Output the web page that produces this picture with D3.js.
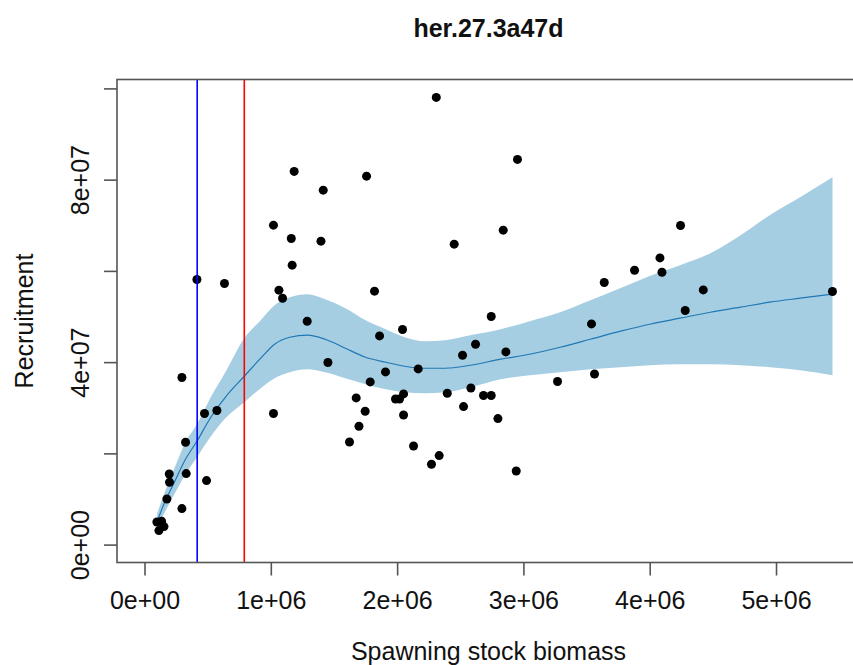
<!DOCTYPE html>
<html>
<head>
<meta charset="utf-8">
<script src="https://cdn.jsdelivr.net/npm/d3@7"></script>
<style>
  body { margin: 0; background: #fff; }
  text { font-family: "Liberation Sans", Arial, Helvetica, sans-serif; }
</style>
</head>
<body>
<div id="vis"></div>
<script>
let title = "her.27.3a47d"
let xLabel = "Spawning stock biomass"
let yLabel = "Recruitment"

let ssb = [2.310e6, 1.185e6, 1.758e6, 1.415e6, 1.021e6, 1.162e6, 1.397e6, 2.452e6, 1.169e6, 0.415e6,
           0.633e6, 1.064e6, 1.093e6, 1.821e6, 1.288e6, 2.953e6, 2.840e6, 4.244e6, 4.081e6, 3.880e6,
           4.097e6, 3.640e6, 4.424e6, 5.447e6, 4.281e6, 2.745e6, 3.539e6, 1.861e6, 2.043e6, 2.621e6,
           2.518e6, 2.861e6, 1.452e6, 2.167e6, 1.908e6, 1.787e6, 0.296e6, 1.676e6, 1.987e6, 2.019e6,
           2.051e6, 2.397e6, 2.584e6, 2.526e6, 2.684e6, 2.745e6, 2.798e6, 3.270e6, 3.563e6, 0.475e6,
           0.573e6, 1.021e6, 1.747e6, 2.051e6, 1.698e6, 1.623e6, 2.130e6, 2.333e6, 2.272e6, 2.943e6,
           0.325e6, 0.330e6, 0.196e6, 0.198e6, 0.491e6, 0.177e6, 0.296e6, 0.098e6, 0.135e6, 0.154e6,
           0.114e6]

let rec = [9.803e7, 8.180e7, 8.077e7, 7.770e7, 7.002e7, 6.711e7, 6.651e7, 6.586e7, 6.125e7, 5.811e7,
           5.724e7, 5.577e7, 5.401e7, 5.555e7, 4.897e7, 8.443e7, 6.893e7, 6.996e7, 6.285e7, 6.015e7,
           5.971e7, 5.746e7, 5.583e7, 5.548e7, 5.132e7, 5.000e7, 4.838e7, 4.575e7, 4.715e7, 4.393e7,
           4.151e7, 4.224e7, 3.991e7, 3.851e7, 3.785e7, 3.566e7, 3.662e7, 3.215e7, 3.193e7, 3.193e7,
           3.303e7, 3.318e7, 3.434e7, 3.026e7, 3.268e7, 3.268e7, 2.763e7, 3.575e7, 3.741e7, 2.873e7,
           2.939e7, 2.873e7, 2.923e7, 2.842e7, 2.594e7, 2.250e7, 2.162e7, 1.952e7, 1.761e7, 1.614e7,
           2.243e7, 1.557e7, 1.548e7, 1.366e7, 1.404e7, 1.000e7, 0.789e7, 0.496e7, 0.511e7, 0.395e7,
           0.307e7]

let fitSsb = [0.10e6, 0.16e6, 0.24e6, 0.32e6, 0.42e6, 0.52e6, 0.64e6, 0.79e6, 0.92e6, 1.03e6,
              1.15e6, 1.29e6, 1.43e6, 1.59e6, 1.75e6, 1.91e6, 2.06e6, 2.22e6, 2.38e6, 2.58e6,
              2.82e6, 3.05e6, 3.29e6, 3.53e6, 3.77e6, 4.00e6, 4.24e6, 4.48e6, 4.72e6, 4.95e6,
              5.19e6, 5.447e6]
let fitRec = [0.511e7, 0.928e7, 1.388e7, 1.849e7, 2.287e7, 2.770e7, 3.230e7, 3.691e7, 4.086e7, 4.393e7,
              4.546e7, 4.590e7, 4.502e7, 4.305e7, 4.108e7, 3.998e7, 3.910e7, 3.866e7, 3.866e7, 3.932e7,
              4.064e7, 4.173e7, 4.327e7, 4.502e7, 4.678e7, 4.831e7, 4.963e7, 5.094e7, 5.204e7, 5.314e7,
              5.401e7, 5.489e7]
let fitHi = [0.686e7, 1.147e7, 1.695e7, 2.221e7, 2.660e7, 3.208e7, 3.778e7, 4.524e7, 4.919e7, 5.248e7,
             5.423e7, 5.489e7, 5.379e7, 5.182e7, 4.919e7, 4.722e7, 4.546e7, 4.458e7, 4.480e7, 4.590e7,
             4.722e7, 4.897e7, 5.094e7, 5.357e7, 5.625e7, 5.888e7, 6.125e7, 6.388e7, 6.783e7, 7.222e7,
             7.616e7, 8.055e7]
let fitLo = [0.379e7, 0.708e7, 1.125e7, 1.520e7, 1.937e7, 2.353e7, 2.770e7, 3.121e7, 3.428e7, 3.647e7,
             3.778e7, 3.844e7, 3.778e7, 3.647e7, 3.516e7, 3.406e7, 3.340e7, 3.318e7, 3.340e7, 3.450e7,
             3.625e7, 3.713e7, 3.778e7, 3.844e7, 3.888e7, 3.932e7, 3.954e7, 3.954e7, 3.932e7, 3.888e7,
             3.822e7, 3.713e7]

let blim = 0.417e6
let bpa = 0.790e6

let xTicks = [0, 1e6, 2e6, 3e6, 4e6, 5e6]
let yTicks = [0, 2e7, 4e7, 6e7, 8e7, 10e7]
let yTickLabels = ["0e+00", "", "4e+07", "", "8e+07", ""]

let width = 853, height = 665
let box = {left: 117, right: 860, top: 79.5, bottom: 562.5}

let sci = v => {
    let [m, e] = v.toExponential(0).split("e")
    return m + "e" + e[0] + e.slice(1).padStart(2, "0")
}

let xMax = d3.max(ssb), yMax = d3.max(rec)

let x = d3.scaleLinear()
    .domain([-0.04 * xMax, 1.04 * xMax])
    .range([box.left, box.right])

let y = d3.scaleLinear()
    .domain([-0.04 * yMax, 1.04 * yMax])
    .range([box.bottom, box.top])

let svg = d3.select("#vis").append("svg")
    .attr("width", width)
    .attr("height", height)
    .style("display", "block")

let fit = fitSsb.map((s, i) => ({s: s, r: fitRec[i], lo: fitLo[i], hi: fitHi[i]}))

svg.append("path")
    .datum(fit)
    .attr("fill", "#A6CEE3")
    .attr("d", d3.area()
        .x(d => x(d.s))
        .y0(d => y(d.lo))
        .y1(d => y(d.hi))
        .curve(d3.curveMonotoneX))

svg.append("path")
    .datum(fit)
    .attr("fill", "none")
    .attr("stroke", "#1F78B4")
    .attr("stroke-width", 1.2)
    .attr("d", d3.line()
        .x(d => x(d.s))
        .y(d => y(d.r))
        .curve(d3.curveMonotoneX))

svg.append("g")
    .selectAll("circle")
    .data(ssb.map((s, i) => [s, rec[i]]))
    .join("circle")
    .attr("cx", d => x(d[0]))
    .attr("cy", d => y(d[1]))
    .attr("r", 4.5)
    .attr("fill", "#000")

svg.append("g")
    .selectAll("line")
    .data([[blim, "#0000FF"], [bpa, "#FF0000"]])
    .join("line")
    .attr("x1", d => x(d[0]))
    .attr("x2", d => x(d[0]))
    .attr("y1", box.top)
    .attr("y2", box.bottom)
    .attr("stroke", d => d[1])
    .attr("stroke-width", 1.6)

svg.append("rect")
    .attr("x", box.left)
    .attr("y", box.top)
    .attr("width", box.right - box.left)
    .attr("height", box.bottom - box.top)
    .attr("fill", "none")
    .attr("stroke", "#555")
    .attr("stroke-width", 1.6)

let xAxis = svg.append("g")
    .attr("transform", `translate(0, ${box.bottom})`)
    .call(d3.axisBottom(x).tickValues(xTicks).tickFormat(sci).tickSize(13).tickPadding(16))

xAxis.select(".domain").remove()
xAxis.selectAll("line").attr("stroke", "#555").attr("stroke-width", 1.6)
xAxis.selectAll("text")
    .attr("fill", "#111")
    .style("font-size", "25px")
    .style("font-family", "'Liberation Sans', Arial, sans-serif")

let yAxis = svg.append("g")
    .attr("transform", `translate(${box.left}, 0)`)
    .call(d3.axisLeft(y).tickValues(yTicks).tickFormat((d, i) => yTickLabels[i]).tickSize(13))

yAxis.select(".domain").remove()
yAxis.selectAll("line").attr("stroke", "#555").attr("stroke-width", 1.6)
yAxis.selectAll("text")
    .attr("fill", "#111")
    .attr("x", 0)
    .attr("y", 0)
    .attr("dy", null)
    .attr("text-anchor", "middle")
    .attr("transform", `translate(${89 - box.left}, 0) rotate(-90)`)
    .style("font-size", "25px")
    .style("font-family", "'Liberation Sans', Arial, sans-serif")

svg.append("text")
    .attr("x", (box.left + box.right) / 2)
    .attr("y", 37)
    .attr("text-anchor", "middle")
    .attr("font-weight", "bold")
    .attr("font-size", 25)
    .attr("fill", "#111")
    .text(title)

svg.append("text")
    .attr("x", (box.left + box.right) / 2)
    .attr("y", 660)
    .attr("text-anchor", "middle")
    .attr("font-size", 25)
    .attr("fill", "#111")
    .text(xLabel)

svg.append("text")
    .attr("transform", `translate(33, ${(box.top + box.bottom) / 2}) rotate(-90)`)
    .attr("text-anchor", "middle")
    .attr("font-size", 25)
    .attr("fill", "#111")
    .text(yLabel)
</script>
</body>
</html>
